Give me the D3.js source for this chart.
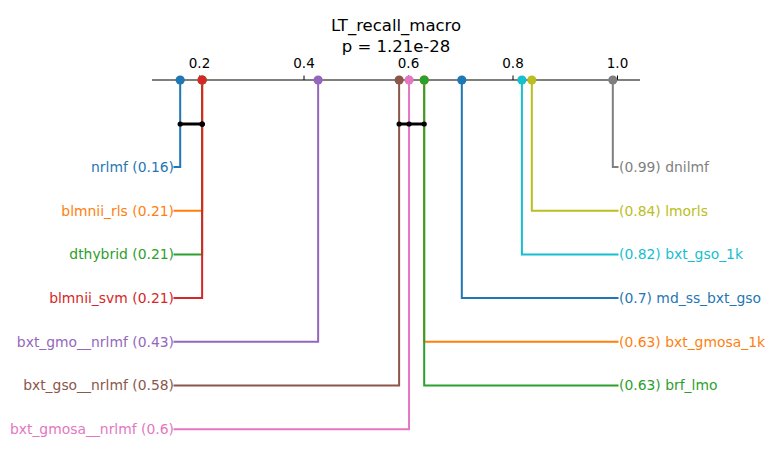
<!DOCTYPE html>
<html><head><meta charset="utf-8">
<script src="https://cdn.jsdelivr.net/npm/d3@7"></script>
<style>body{margin:0;background:#fff}</style>
</head><body>
<script>
const title = "LT_recall_macro";
const subtitle = "p = 1.21e-28";
const leftNames = ["nrlmf","blmnii_rls","dthybrid","blmnii_svm","bxt_gmo__nrlmf","bxt_gso__nrlmf","bxt_gmosa__nrlmf"];
const leftRanks = [0.164,0.206,0.206,0.206,0.428,0.583,0.602];
const leftLabels = ["0.16","0.21","0.21","0.21","0.43","0.58","0.6"];
const leftColors = ["#1f77b4","#ff7f0e","#2ca02c","#d62728","#9467bd","#8c564b","#e377c2"];
const rightNames = ["dnilmf","lmorls","bxt_gso_1k","md_ss_bxt_gso","bxt_gmosa_1k","brf_lmo"];
const rightRanks = [0.992,0.837,0.818,0.703,0.631,0.631];
const rightLabels = ["0.99","0.84","0.82","0.7","0.63","0.63"];
const rightColors = ["#7f7f7f","#bcbd22","#17becf","#1f77b4","#ff7f0e","#2ca02c"];
const ticks = [0.2,0.4,0.6,0.8,1.0];
const cliques = [[0.164,0.206,0.206,0.206],[0.583,0.602,0.631]];

const W=774,H=462;
const svg=d3.select("body").append("svg").attr("width",W).attr("height",H);
const x=d3.scaleLinear().domain([0.2,1.0]).range([199,617]);
const axisY=80;
const xmin=0.11, xmax=1.044;
const rowY=d3.scaleLinear().domain([0,1]).range([167,210.7]);
const font="DejaVu Sans, sans-serif";
const fs=13.9;

svg.append("text").attr("x",396).attr("y",31).attr("text-anchor","middle")
  .attr("font-family",font).attr("font-size",16.5).text(title);
svg.append("text").attr("x",396).attr("y",52).attr("text-anchor","middle")
  .attr("font-family",font).attr("font-size",16.5).text(subtitle);

// axis
svg.append("line").attr("x1",x(xmin)).attr("x2",x(xmax)).attr("y1",axisY).attr("y2",axisY)
  .attr("stroke","#000").attr("stroke-width",1.2);
const ax=d3.axisTop(x).tickValues(ticks).tickFormat(d3.format(".1f")).tickSize(4.5).tickSizeOuter(0);
const g=svg.append("g").attr("transform",`translate(0,${axisY})`).call(ax);
g.select(".domain").remove();
g.selectAll("line").attr("stroke","#000").attr("stroke-width",1);
g.selectAll("text").attr("font-family",font).attr("font-size",13.5).attr("fill","#000").attr("y",-12).attr("dy","0");

const items=[];
leftNames.forEach((n,i)=>items.push({side:"L",name:n,r:leftRanks[i],lab:leftLabels[i],c:leftColors[i],row:i}));
[4,5,3,2,1,0].forEach(i=>items.push({side:"R",name:rightNames[i],r:rightRanks[i],lab:rightLabels[i],c:rightColors[i],row:i}));
items.sort((a,b)=>a.r-b.r);

items.forEach(d=>{
  const y=rowY(d.row);
  const xe = d.side==="L" ? 173.5 : 618.5;
  svg.append("path").attr("d",`M${x(d.r)},${axisY}V${y}H${xe}`)
    .attr("fill","none").attr("stroke",d.c).attr("stroke-width",2);
  svg.append("text").attr("x",d.side==="L"?174:619).attr("y",y).attr("dy","0.35em")
    .attr("text-anchor",d.side==="L"?"end":"start")
    .attr("font-family",font).attr("font-size",fs).attr("fill",d.c)
    .text(d.side==="L" ? `${d.name} (${d.lab})` : `(${d.lab}) ${d.name}`);
});
items.forEach(d=>{
  svg.append("circle").attr("cx",x(d.r)).attr("cy",axisY).attr("r",4.6).attr("fill",d.c);
});

const cy=124;
cliques.forEach(cl=>{
  svg.append("line").attr("x1",x(d3.min(cl))).attr("x2",x(d3.max(cl))).attr("y1",cy).attr("y2",cy)
    .attr("stroke","#000").attr("stroke-width",3);
  cl.forEach(v=>svg.append("circle").attr("cx",x(v)).attr("cy",cy).attr("r",2.6).attr("fill","#000"));
});
</script>
</body></html>
